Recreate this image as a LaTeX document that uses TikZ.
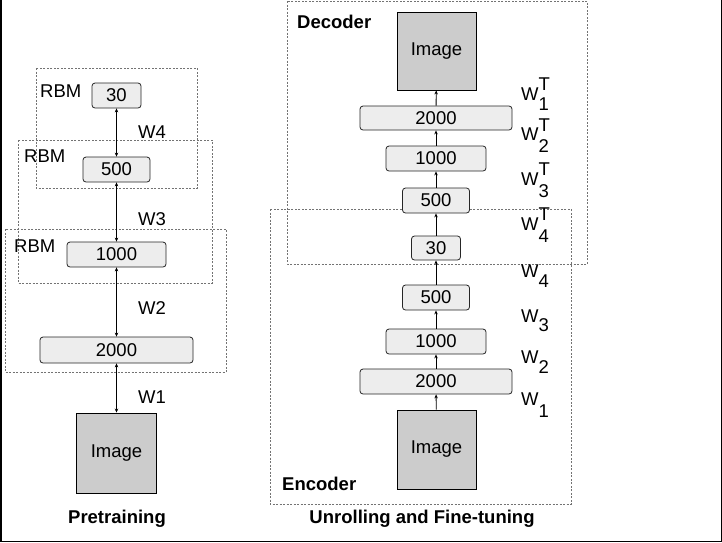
\documentclass[tikz,border=0pt]{standalone}
\usepackage{fontspec}
\setmainfont{Liberation Sans}
\usetikzlibrary{arrows.meta}
\begin{document}
\begin{tikzpicture}[x=1pt,y=-1pt,
  every node/.style={font=\fontsize{18.5}{21}\selectfont, inner sep=0pt},
  layer/.style={draw=black!85, fill=black!7, rounded corners=3pt, line width=0.8pt, minimum height=25pt},
  imgbox/.style={draw=black, fill=black!20, line width=0.9pt, minimum width=80pt, minimum height=80pt},
  grp/.style={draw=black!55, line width=0.7pt, dash pattern=on 2pt off 1.5pt},
  lab/.style={anchor=base west},
  ttl/.style={anchor=base, font=\fontsize{18.5}{21}\selectfont\bfseries},
  dbl/.style={{Stealth[length=4pt,width=3.5pt]}-{Stealth[length=4pt,width=3.5pt]}, line width=0.8pt},
  up/.style={-{Stealth[length=4pt,width=3.5pt]}, line width=0.8pt}
]
\useasboundingbox (0,0) rectangle (722,542);
\fill[white] (0,0) rectangle (722,542);
% outer frame (left, bottom, right)
\draw[line width=2pt] (1,0) -- (1,541);
\draw[line width=1.2pt] (0,541.4) -- (721.4,541.4) -- (721.4,0);

% ---------- Pretraining ----------
\draw[grp] (36,68) rectangle (197,188);
\draw[grp] (18,140) rectangle (212,283);
\draw[grp] (5,229) rectangle (226,372);

\node[layer, minimum width=49pt] (p30) at (116.5,95.5) {30};
\node[layer, minimum width=67pt] (p500) at (116.5,169.5) {500};
\node[layer, minimum width=99pt] (p1000) at (116.5,254.5) {1000};
\node[layer, minimum width=153pt, minimum height=26pt] (p2000) at (116.5,350) {2000};
\node[imgbox] (pimg) at (116.5,453) {Image};

\draw[dbl] (p30) -- (p500);
\draw[dbl] (p500) -- (p1000);
\draw[dbl] (p1000) -- (p2000);
\draw[dbl] (p2000) -- (pimg);

\node[lab] (lr1) at (40,97) {RBM};
\node[lab] (lr2) at (24,162) {RBM};
\node[lab] (lr3) at (14,252) {RBM};
\node[lab] (lw4) at (138,138) {W4};
\node[lab] (lw3) at (138,225.5) {W3};
\node[lab] (lw2) at (138,314.5) {W2};
\node[lab] (lw1) at (138,403) {W1};
\node[ttl] (tpre) at (117,523.5) {Pretraining};

% ---------- Unrolling ----------
\draw[grp] (287,1) rectangle (587,264);
\draw[grp] (270,209) rectangle (571,504);

\node[imgbox, minimum width=79pt, minimum height=78pt] (dimg) at (436.5,51) {Image};
\node[layer, minimum width=152pt, minimum height=24pt] (d2000) at (436,118) {2000};
\node[layer, minimum width=100pt] (d1000) at (436,158.5) {1000};
\node[layer, minimum width=67pt] (d500) at (436,200.5) {500};
\node[layer, minimum width=49pt, minimum height=24pt] (c30) at (436,248) {30};
\node[layer, minimum width=67pt] (e500) at (436,297.5) {500};
\node[layer, minimum width=100pt] (e1000) at (436,341.5) {1000};
\node[layer, minimum width=152pt] (e2000) at (436,381.5) {2000};
\node[imgbox, minimum width=79pt, minimum height=79pt] (eimg) at (436.5,449.5) {Image};

\draw[up] (eimg) -- (e2000);
\draw[up] (e2000) -- (e1000);
\draw[up] (e1000) -- (e500);
\draw[up] (e500) -- (c30);
\draw[up] (c30) -- (d500);
\draw[up] (d500) -- (d1000);
\draw[up] (d1000) -- (d2000);
\draw[up] (d2000) -- (dimg);

\node[lab] (wt1) at (521,100) {W\rlap{\raisebox{10pt}{T}}\raisebox{-10pt}{1}};
\node[lab] (wt2) at (521,140) {W\rlap{\raisebox{9pt}{T}}\raisebox{-12pt}{2}};
\node[lab] (wt3) at (521,185) {W\rlap{\raisebox{10pt}{T}}\raisebox{-12pt}{3}};
\node[lab] (wt4) at (521,230) {W\rlap{\raisebox{10pt}{T}}\raisebox{-12pt}{4}};
\node[lab] (w4) at (521,277) {W\raisebox{-10pt}{4}};
\node[lab] (w3) at (521,322) {W\raisebox{-9pt}{3}};
\node[lab] (w2) at (521,363) {W\raisebox{-10pt}{2}};
\node[lab] (w1) at (521,405) {W\raisebox{-12pt}{1}};

\node[lab, font=\fontsize{18.5}{21}\selectfont\bfseries] (dec) at (297,28) {Decoder};
\node[lab, font=\fontsize{18.5}{21}\selectfont\bfseries] (enc) at (282,490) {Encoder};
\node[ttl] (tunr) at (422,523.5) {Unrolling and Fine-tuning};
\end{tikzpicture}
\end{document}
